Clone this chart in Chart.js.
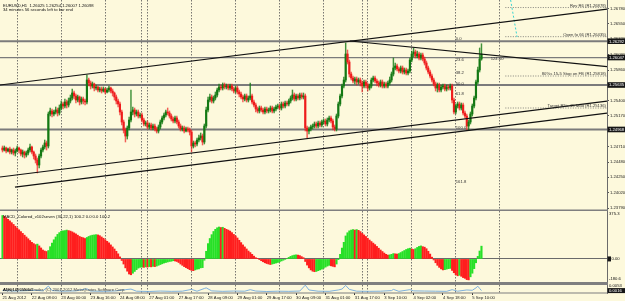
<!DOCTYPE html>
<html>
<head>
<meta charset="utf-8">
<script src="https://cdn.jsdelivr.net/npm/chart.js@4.4.0/dist/chart.umd.min.js"></script>
<style>
  html, body { margin: 0; padding: 0; background: #fdf9dc; }
  #wrap { position: relative; width: 625px; height: 301px; overflow: hidden; background: #fdf9dc; }
  canvas { position: absolute; left: 0; }
</style>
</head>
<body>
<div id="wrap">
  <canvas id="main" width="625" height="211" style="top:0px"></canvas>
  <canvas id="macd" width="625" height="72" style="top:211px"></canvas>
  <canvas id="atr" width="625" height="18" style="top:283px"></canvas>
</div>
<script>
// EURUSD H1, 21 Aug 2012 16:00 -> 5 Sep 2012 15:00, one value per bar
const firstOpen = 1.2469;
const closes = [
  1.2466, 1.2469, 1.24645, 1.24675, 1.2463, 1.2466, 1.24615, 1.24645, 1.2469, 1.2466,
  1.2460, 1.2463, 1.24585, 1.24615, 1.2466, 1.24705, 1.2463, 1.2457, 1.2451, 1.24435,
  1.2457, 1.2466, 1.24705, 1.24765, 1.2472, 1.2520, 1.25245, 1.2520, 1.2523, 1.2526,
  1.25215, 1.2529, 1.2535, 1.2532, 1.2538, 1.25335, 1.25395, 1.2544, 1.25515, 1.2547,
  1.2541, 1.25455, 1.2538, 1.25425, 1.25395, 1.2538, 1.2571, 1.25665, 1.2562, 1.2565,
  1.2559, 1.25605, 1.2556, 1.25575, 1.25545, 1.25575, 1.2553, 1.2556, 1.2559, 1.25545,
  1.25515, 1.25455, 1.25395, 1.2535, 1.2523, 1.2508, 1.2496, 1.2487, 1.2499, 1.2511,
  1.2523, 1.2526, 1.2520, 1.2523, 1.2517, 1.25185, 1.2511, 1.2505, 1.25065, 1.25005,
  1.25035, 1.2499, 1.2502, 1.24975, 1.24945, 1.25005, 1.2508, 1.2514, 1.25185, 1.2523,
  1.25215, 1.2517, 1.25125, 1.25095, 1.2514, 1.2508, 1.2502, 1.24975, 1.2499, 1.24945,
  1.24975, 1.2496, 1.2493, 1.2472, 1.24765, 1.2475, 1.2481, 1.2484, 1.2487, 1.2478,
  1.2502, 1.2526, 1.2541, 1.25455, 1.25395, 1.2544, 1.25485, 1.2556, 1.25605, 1.2559,
  1.25635, 1.25605, 1.2562, 1.2559, 1.2562, 1.25575, 1.25545, 1.2559, 1.2553, 1.2550,
  1.25455, 1.25425, 1.2547, 1.2541, 1.2544, 1.2547, 1.2538, 1.25335, 1.25275, 1.25245,
  1.2529, 1.2526, 1.2523, 1.25275, 1.25245, 1.2526, 1.2529, 1.25245, 1.25275, 1.25305,
  1.2532, 1.2529, 1.2535, 1.2532, 1.25365, 1.2535, 1.25395, 1.2544, 1.25485, 1.25425,
  1.2547, 1.2544, 1.25485, 1.25455, 1.2547, 1.2499, 1.24945, 1.24975, 1.25005, 1.2502,
  1.2505, 1.2502, 1.25065, 1.25035, 1.2508, 1.25095, 1.2505, 1.2511, 1.2514, 1.25095,
  1.25005, 1.24975, 1.2517, 1.2535, 1.2547, 1.2562, 1.2571, 1.2610, 1.2598, 1.2580,
  1.2574, 1.25695, 1.25725, 1.2568, 1.2571, 1.25665, 1.2562, 1.2568, 1.25635, 1.2559,
  1.2562, 1.2571, 1.2574, 1.25695, 1.25665, 1.25635, 1.2568, 1.2562, 1.2565, 1.2562,
  1.25665, 1.2571, 1.2580, 1.2589, 1.2592, 1.25875, 1.25845, 1.2589, 1.2583, 1.2586,
  1.25815, 1.25845, 1.2601, 1.2610, 1.2613, 1.2607, 1.2610, 1.2604, 1.26085, 1.26025,
  1.25965, 1.2589, 1.2583, 1.2577, 1.2571, 1.2565, 1.2559, 1.25635, 1.2556, 1.25605,
  1.2562, 1.25575, 1.25605, 1.2559, 1.2562, 1.2541, 1.2523, 1.2532, 1.2535, 1.2529,
  1.25335, 1.25215, 1.2517, 1.2502, 1.2508, 1.2520, 1.2532, 1.2544, 1.2568, 1.2586,
  1.26025, 1.26098
];
const highs = [
  1.2472, 1.2472, 1.24705, 1.2469, 1.24705, 1.24675, 1.2469, 1.24675, 1.2472, 1.24705,
  1.24675, 1.2466, 1.24645, 1.24645, 1.2469, 1.2475, 1.2472, 1.24645, 1.2460, 1.2454,
  1.2460, 1.2469, 1.24735, 1.2481, 1.24795, 1.2523, 1.2529, 1.25275, 1.2526, 1.25305,
  1.2529, 1.25335, 1.25395, 1.2538, 1.25425, 1.2541, 1.2544, 1.25485, 1.25575, 1.25545,
  1.2550, 1.25485, 1.2547, 1.25455, 1.25455, 1.25425, 1.25785, 1.2574, 1.25695, 1.2568,
  1.25665, 1.25635, 1.2562, 1.25605, 1.25605, 1.25605, 1.2559, 1.2559, 1.2562, 1.25605,
  1.25575, 1.2553, 1.25485, 1.25425, 1.2538, 1.2526, 1.2511, 1.2499, 1.2502, 1.25155,
  1.2556, 1.25305, 1.2529, 1.2526, 1.2526, 1.25215, 1.25215, 1.2514, 1.25095, 1.25095,
  1.25065, 1.25065, 1.2505, 1.2505, 1.25005, 1.25035, 1.2511, 1.2517, 1.25215, 1.2526,
  1.2529, 1.25245, 1.2520, 1.25155, 1.2517, 1.2517, 1.2511, 1.2505, 1.2502, 1.2502,
  1.25005, 1.25005, 1.2499, 1.2496, 1.24795, 1.24795, 1.2484, 1.24885, 1.24915, 1.2490,
  1.2505, 1.25305, 1.25455, 1.2550, 1.25485, 1.2547, 1.2553, 1.2559, 1.2565, 1.25635,
  1.25665, 1.25665, 1.2565, 1.2565, 1.2565, 1.2565, 1.25605, 1.2562, 1.2562, 1.2556,
  1.2553, 1.25485, 1.2550, 1.2550, 1.2547, 1.25665, 1.2550, 1.2541, 1.25365, 1.25305,
  1.2532, 1.2532, 1.2529, 1.25305, 1.25305, 1.2529, 1.2532, 1.2532, 1.25305, 1.25335,
  1.2535, 1.2535, 1.2538, 1.2538, 1.25395, 1.25395, 1.25425, 1.2547, 1.2556, 1.25515,
  1.2550, 1.2550, 1.25515, 1.25515, 1.25515, 1.2550, 1.2502, 1.25005, 1.25035, 1.2505,
  1.2508, 1.2508, 1.25095, 1.25095, 1.2511, 1.25125, 1.25125, 1.2514, 1.2517, 1.2517,
  1.25125, 1.25035, 1.2520, 1.2538, 1.2550, 1.2565, 1.25755, 1.26265, 1.2616, 1.2601,
  1.2583, 1.2577, 1.25755, 1.25755, 1.2574, 1.2574, 1.25695, 1.2571, 1.2571, 1.25665,
  1.2565, 1.2574, 1.2577, 1.2577, 1.25725, 1.25695, 1.2571, 1.2571, 1.2568, 1.2568,
  1.25695, 1.25755, 1.2583, 1.2604, 1.25965, 1.2595, 1.25905, 1.2592, 1.2592, 1.2589,
  1.2589, 1.25875, 1.2604, 1.26145, 1.2619, 1.2616, 1.26145, 1.2613, 1.26115, 1.26115,
  1.26055, 1.25995, 1.2592, 1.2586, 1.2580, 1.2574, 1.2568, 1.25665, 1.25665, 1.25635,
  1.2565, 1.2565, 1.25635, 1.25635, 1.2565, 1.2565, 1.2544, 1.2535, 1.2538, 1.2538,
  1.25365, 1.25365, 1.25245, 1.2520, 1.2511, 1.2523, 1.2535, 1.2547, 1.2571, 1.25905,
  1.2619, 1.26254
];
const lows = [
  1.2463, 1.24645, 1.24615, 1.2463, 1.2460, 1.2460, 1.24585, 1.2457, 1.2463, 1.24615,
  1.2457, 1.24555, 1.2454, 1.24555, 1.24585, 1.2463, 1.2460, 1.24525, 1.24465, 1.24315,
  1.2439, 1.2454, 1.2463, 1.24675, 1.2466, 1.2469, 1.2517, 1.25155, 1.2517, 1.2520,
  1.2517, 1.25185, 1.2526, 1.25275, 1.2529, 1.2529, 1.25305, 1.25365, 1.2541, 1.25425,
  1.25365, 1.2538, 1.25335, 1.2535, 1.2535, 1.25335, 1.2535, 1.2562, 1.25575, 1.2559,
  1.25545, 1.2556, 1.2553, 1.2553, 1.25515, 1.2553, 1.2550, 1.25515, 1.2553, 1.25515,
  1.2547, 1.2541, 1.2535, 1.25305, 1.25185, 1.25035, 1.24915, 1.2478, 1.24825, 1.2496,
  1.2508, 1.25185, 1.25155, 1.2517, 1.2514, 1.2514, 1.2508, 1.2502, 1.2502, 1.24975,
  1.24975, 1.2496, 1.2496, 1.24945, 1.24915, 1.24915, 1.24975, 1.2505, 1.2511, 1.25155,
  1.25185, 1.2514, 1.25095, 1.25065, 1.25065, 1.2505, 1.2499, 1.24945, 1.24945, 1.24915,
  1.2493, 1.2493, 1.24885, 1.2463, 1.2469, 1.24705, 1.2472, 1.2478, 1.2481, 1.24735,
  1.2475, 1.2499, 1.2523, 1.2538, 1.25365, 1.25365, 1.2541, 1.25455, 1.2553, 1.2556,
  1.2556, 1.25575, 1.25575, 1.2556, 1.2556, 1.25545, 1.25515, 1.25515, 1.2550, 1.25455,
  1.25425, 1.2538, 1.25395, 1.2538, 1.2538, 1.2541, 1.2535, 1.25305, 1.2523, 1.25215,
  1.25215, 1.2523, 1.2520, 1.2520, 1.25215, 1.25215, 1.2523, 1.25215, 1.25215, 1.25245,
  1.25275, 1.2526, 1.2526, 1.2529, 1.2529, 1.2532, 1.2532, 1.25365, 1.2541, 1.25395,
  1.25395, 1.2541, 1.2541, 1.25425, 1.25425, 1.24945, 1.2484, 1.2490, 1.24945, 1.24975,
  1.2499, 1.2499, 1.2499, 1.25005, 1.25005, 1.2505, 1.2502, 1.2502, 1.2508, 1.25065,
  1.2496, 1.24945, 1.24945, 1.2514, 1.2532, 1.2544, 1.2559, 1.2568, 1.2595, 1.25755,
  1.2571, 1.25665, 1.2565, 1.25635, 1.2565, 1.2562, 1.2553, 1.2559, 1.2559, 1.25545,
  1.2556, 1.2559, 1.2568, 1.25665, 1.2562, 1.25605, 1.25605, 1.2559, 1.2559, 1.2559,
  1.2559, 1.25635, 1.2568, 1.2577, 1.2586, 1.25845, 1.25815, 1.25815, 1.2580, 1.2580,
  1.25785, 1.25785, 1.25815, 1.2598, 1.26055, 1.2604, 1.2604, 1.2601, 1.2601, 1.25995,
  1.25935, 1.2586, 1.2580, 1.2574, 1.2568, 1.2562, 1.25545, 1.2553, 1.2553, 1.2553,
  1.25575, 1.25545, 1.25545, 1.2556, 1.2556, 1.25365, 1.2520, 1.2520, 1.2529, 1.2526,
  1.2526, 1.25185, 1.2514, 1.2496, 1.2496, 1.2505, 1.2517, 1.2529, 1.2541, 1.2565,
  1.2583, 1.26007
];
const macd = [
  340, 334, 322, 310, 298, 284, 270, 256, 242, 228,
  214, 200, 186, 172, 158, 144, 130, 120, 112, 116,
  102, 86, 70, 62, 58, 66, 96, 124, 150, 172,
  192, 206, 216, 220, 222, 226, 222, 218, 212, 204,
  196, 186, 176, 170, 166, 160, 168, 176, 182, 186,
  188, 190, 188, 182, 172, 162, 150, 138, 126, 110,
  94, 78, 60, 40, 16, -12, -40, -70, -96, -118,
  -124, -112, -98, -84, -72, -66, -64, -66, -62, -64,
  -60, -62, -58, -60, -56, -50, -44, -38, -32, -28,
  -24, -20, -18, -14, -16, -20, -28, -40, -50, -60,
  -68, -76, -84, -90, -92, -86, -80, -78, -70, -68,
  -10, 60, 120, 160, 190, 215, 232, 244, 250, 246,
  248, 240, 232, 226, 218, 206, 192, 180, 164, 146,
  128, 110, 94, 78, 62, 50, 36, 22, 10, 2,
  -6, -14, -22, -30, -36, -40, -44, -40, -36, -32,
  -28, -22, -16, -10, -4, 4, 12, 20, 26, 30,
  32, 30, 26, 18, 10, -20, -48, -70, -86, -96,
  -100, -98, -92, -86, -80, -72, -64, -56, -50, -54,
  -58, -62, -40, -6, 36, 85, 130, 180, 205, 220,
  226, 230, 226, 230, 224, 214, 200, 188, 176, 162,
  148, 136, 124, 112, 98, 84, 70, 58, 46, 36,
  30, 32, 36, 42, 40, 38, 42, 50, 58, 66,
  74, 80, 84, 78, 74, 80, 90, 98, 102, 96,
  92, 80, 60, 38, 14, -8, -30, -50, -66, -78,
  -86, -84, -80, -76, -74, -90, -108, -124, -132, -128,
  -136, -146, -152, -162, -164, -140, -112, -76, -30, 20,
  62, 100
];
// [bar, value]
const atrPts = [
  [0, 0.0016], [6, 0.0013], [12, 0.0015], [18, 0.0018], [22, 0.0014], [25, 0.0046], [27, 0.0016],
  [33, 0.0012], [40, 0.0014], [46, 0.0028], [48, 0.0013], [55, 0.0011], [62, 0.0014], [67, 0.0022],
  [70, 0.0026], [73, 0.0012], [80, 0.0010], [86, 0.0013], [92, 0.0011], [98, 0.0012], [103, 0.0024],
  [106, 0.0012], [110, 0.0030], [111, 0.0034], [114, 0.0014], [120, 0.0011], [126, 0.0013],
  [132, 0.0012], [135, 0.0022], [138, 0.0013], [144, 0.0010], [150, 0.0012], [156, 0.0011],
  [162, 0.0013], [165, 0.0052], [167, 0.0020], [172, 0.0012], [178, 0.0011], [183, 0.0020],
  [185, 0.0026], [187, 0.0050], [189, 0.0024], [193, 0.0012], [200, 0.0011], [206, 0.0012],
  [212, 0.0016], [213, 0.0024], [216, 0.0011], [222, 0.0022], [224, 0.0014], [230, 0.0013],
  [236, 0.0012], [242, 0.0011], [245, 0.0022], [248, 0.0012], [253, 0.0020], [256, 0.0018],
  [258, 0.0034], [259, 0.0045], [260, 0.0030], [261, 0.0016]
];

const dateTicks = [0, 16, 32, 48, 64, 80, 96, 112, 128, 144, 160, 176, 192, 208, 224, 240, 256];
const dateLabels = ['21 Aug 2012', '22 Aug 08:00', '23 Aug 00:00', '23 Aug 16:00', '24 Aug 08:00',
  '27 Aug 01:00', '27 Aug 17:00', '28 Aug 09:00', '29 Aug 01:00', '29 Aug 17:00', '30 Aug 09:00',
  '31 Aug 01:00', '31 Aug 17:00', '3 Sep 10:00', '4 Sep 02:00', '4 Sep 18:00', '5 Sep 10:00'];
const daySeps = [8, 32, 56, 76, 79, 103, 127, 151, 175, 196, 199, 223, 247, 271];
const priceTicks = [1.2379, 1.2402, 1.2425, 1.2448, 1.2471, 1.2494, 1.2517, 1.2540,
  1.2563, 1.2586, 1.2609, 1.2632, 1.2655, 1.2678];

const hLevels = [1.26292, 1.26047, 1.25635, 1.24968];
const trendLines = [
  [[-1.36, 1.25635], [329.4, 1.267735]],
  [[189.4, 1.26295], [329.4, 1.259095]],
  [[-1.36, 1.24255], [329.4, 1.253935]],
  [[6.8, 1.241035], [329.4, 1.252135]]
];
const cyanLine = [[276.5, 1.2697], [280.4, 1.26355]];
const fibLevels = [0, 23.6, 38.2, 50, 61.8, 100, 161.8];
const fibZero = 1.26292, fibHundred = 1.24968, fibAt = 247;
const moveText = '124.60', moveAt = [266, 1.2601];
const noteStart = 274;
const levelNotes = [
  { text: 'Rev R6 (R1.26878)', price: 1.26797 },
  { text: 'Open fo 66 (R1.26435)', price: 1.26360 },
  { text: '80%s 15-5 Stop on FB (R1.25818)', price: 1.25770 },
  { text: 'Target R5ic 15 Mod (R1.25136)', price: 1.25290 }
];
const headerText = 'EURUSD,H1  1.26025 1.26254 1.26007 1.26098';
const timerText = '34 minutes 56 seconds left to bar end';
const macdTitle = 'MACD_Colored_v102seven (30,22,1) 100.2 0.0 0.0 100.2';
const macdMax = 375.3, macdMin = -180.6;
const atrTitle = 'ATR(14) 0.0016';
const copyText = 'Alpari UK MetaTrader, (C) 2001-2012 MetaQuotes Software Corp.';
const atrMax = 0.0053;

// ---- styling ----
const X_MIN = -1.36, X_MAX = 329.4;
const Y_MIN = 1.2376, Y_MAX = 1.2691;
const FAM = '"Liberation Sans", Arial, sans-serif';
const FS = 4.2;
const FONT = FS + 'px ' + FAM;
const BULL = '#137813', BEAR = '#ee1c1c';
const BULL_WICK = 'rgba(19,120,19,0.8)', BEAR_WICK = 'rgba(238,28,28,0.7)';
const UP = '#27e027', DOWN = '#ff1e1e';
const hWidths = [2, 1.3, 2, 2];

const fitW = w => s => { s.width = w; s.paddingTop = 0; s.paddingBottom = 0; };
const fitH = h => s => { s.height = h; s.paddingLeft = 0; s.paddingRight = 0; };

function dayGrid() {
  return {
    type: 'linear', min: X_MIN, max: X_MAX, offset: false, position: 'bottom',
    afterBuildTicks: s => { s.ticks = daySeps.map(v => ({ value: v })); },
    afterFit: fitH(0),
    ticks: { display: false },
    grid: { offset: false, color: '#555', lineWidth: 0.8, drawTicks: false },
    border: { display: false, dash: [1.5, 1.5] }
  };
}

function rightAxis(min, max, extra) {
  return Object.assign({
    type: 'linear', position: 'right', min: min, max: max,
    afterFit: fitW(18),
    ticks: { display: false },
    grid: { display: false },
    border: { display: true, color: '#6b6b6b', width: 1 }
  }, extra);
}

const lineSet = (pts, color, width, dash, order) => ({
  type: 'line', data: pts.map(p => ({ x: p[0], y: p[1] })), borderColor: color, borderWidth: width,
  borderDash: dash || [], pointRadius: 0, fill: false, tension: 0, order: order
});

const common = {
  responsive: false, animation: false, devicePixelRatio: 1,
  plugins: { legend: { display: false }, tooltip: { enabled: false } }
};

// ---- main price pane ----
const opens = closes.map((c, i) => (i === 0 ? firstOpen : closes[i - 1]));
const bull = closes.map((c, i) => c >= opens[i]);

const mainSets = [
  {
    type: 'bar', data: closes.map((c, i) => ({ x: i, y: [opens[i], c] })),
    backgroundColor: bull.map(b => (b ? BULL : BEAR)), barThickness: 1.5, grouped: false,
    minBarLength: 0.8, order: 2
  },
  {
    type: 'bar', data: closes.map((c, i) => ({ x: i, y: [lows[i], highs[i]] })),
    backgroundColor: bull.map(b => (b ? BULL_WICK : BEAR_WICK)), barThickness: 0.8, grouped: false,
    order: 3
  }
];
hLevels.forEach((p, k) => mainSets.push(lineSet([[X_MIN, p], [X_MAX, p]], '#7b7b7b', hWidths[k], null, 5)));
trendLines.forEach(t => mainSets.push(lineSet(t, '#111', 1.2, null, 1)));
levelNotes.forEach(n => mainSets.push(lineSet([[noteStart, n.price], [X_MAX, n.price]], '#666', 0.8, [1, 1.5], 6)));
mainSets.push(lineSet(cyanLine, '#1fd0d0', 0.9, [2, 2], 1));

const mainText = {
  id: 'mainText',
  afterDraw(chart) {
    const { ctx, chartArea: a, scales: { x, y } } = chart;
    ctx.save();
    ctx.font = FONT;
    ctx.textAlign = 'left';
    ctx.textBaseline = 'alphabetic';
    ctx.fillStyle = '#111';
    ctx.fillText(headerText, 3, 6.5);
    ctx.fillText(timerText, 3, 10.5);
    ctx.fillStyle = '#333';
    fibLevels.forEach(l => {
      const p = fibZero - (fibZero - fibHundred) * l / 100;
      ctx.fillText(l.toFixed(1), x.getPixelForValue(fibAt), y.getPixelForValue(p) - 0.8);
    });
    ctx.fillText(moveText, x.getPixelForValue(moveAt[0]), y.getPixelForValue(moveAt[1]));
    ctx.textAlign = 'right';
    levelNotes.forEach(n => ctx.fillText(n.text, a.right - 1, y.getPixelForValue(n.price) - 0.8));
    // pane separator
    ctx.fillStyle = '#7f7f7f';
    ctx.fillRect(0, a.bottom - 0.5, a.right + 1, 1.6);
    // value boxes on the price axis
    ctx.textAlign = 'left';
    ctx.textBaseline = 'middle';
    hLevels.forEach(p => {
      const yy = y.getPixelForValue(p);
      ctx.fillStyle = '#161616';
      ctx.fillRect(a.right + 0.5, yy - 2.8, 18, 5.6);
      ctx.fillStyle = '#fff';
      ctx.fillText(p.toFixed(5), a.right + 2, yy + 0.2);
    });
    ctx.restore();
  }
};

new Chart(document.getElementById('main'), {
  type: 'bar',
  data: { datasets: mainSets },
  options: Object.assign({}, common, {
    layout: { padding: { top: 0, bottom: 1, left: 0, right: 0 } },
    scales: {
      x: dayGrid(),
      y: rightAxis(Y_MIN, Y_MAX, {
        afterBuildTicks: s => { s.ticks = priceTicks.map(v => ({ value: v })); },
        ticks: { display: true, autoSkip: false, font: { family: FAM, size: FS }, color: '#222', padding: 1,
          callback: v => v.toFixed(5) },
        grid: { display: true, drawOnChartArea: false, drawTicks: true, tickLength: 2, color: '#555' }
      })
    }
  }),
  plugins: [mainText]
});

// ---- MACD pane ----
const macdText = {
  id: 'macdText',
  afterDraw(chart) {
    const { ctx, chartArea: a, scales: { y } } = chart;
    ctx.save();
    ctx.font = FONT;
    ctx.fillStyle = '#111';
    ctx.textBaseline = 'alphabetic';
    ctx.fillText(macdTitle, 3, 6.5);
    ctx.textBaseline = 'middle';
    ctx.fillText(macdMax.toFixed(1), a.right + 2, y.getPixelForValue(macdMax) + 2.5);
    ctx.fillText(macdMin.toFixed(1), a.right + 2, y.getPixelForValue(macdMin) - 3);
    const z = y.getPixelForValue(0);
    ctx.fillStyle = '#161616';
    ctx.fillRect(a.right + 0.5, z - 2.5, 3.5, 5);
    ctx.fillStyle = '#111';
    ctx.fillText('0.00', a.right + 4.5, z + 0.2);
    ctx.fillStyle = '#7f7f7f';
    ctx.fillRect(0, a.bottom, a.right + 1, 1);
    ctx.restore();
  }
};

new Chart(document.getElementById('macd'), {
  type: 'bar',
  data: {
    datasets: [{
      data: macd.map((v, i) => ({ x: i, y: v })),
      backgroundColor: macd.map((v, i) => (i > 0 && v < macd[i - 1] ? DOWN : UP)),
      barThickness: 1.45, grouped: false
    }]
  },
  options: Object.assign({}, common, {
    layout: { padding: { top: 0, bottom: 1, left: 0, right: 0 } },
    scales: {
      x: dayGrid(),
      y: rightAxis(macdMin, macdMax, {
        afterBuildTicks: s => { s.ticks = [{ value: 0 }]; },
        grid: { display: true, drawTicks: false, color: '#6a6a6a', lineWidth: 1 }
      })
    }
  }),
  plugins: [macdText]
});

// ---- small ATR pane + time axis ----
const atrText = {
  id: 'atrText',
  afterDraw(chart) {
    const { ctx, chartArea: a, scales: { y } } = chart;
    ctx.save();
    ctx.font = FONT;
    ctx.fillStyle = '#7f7f7f';
    ctx.fillRect(0, 0, a.right + 1, 2);
    ctx.fillRect(0, a.bottom - 0.5, a.right + 1, 1);
    ctx.textBaseline = 'alphabetic';
    ctx.fillStyle = '#444';
    ctx.fillText(copyText, 3, 8.3);
    ctx.fillStyle = '#111';
    ctx.fillText(atrTitle, 3, 8.3);
    ctx.textBaseline = 'middle';
    ctx.fillText(atrMax.toFixed(4), a.right + 2, 3.2);
    const last = atrPts[atrPts.length - 1][1];
    const yy = y.getPixelForValue(last);
    ctx.fillStyle = '#161616';
    ctx.fillRect(a.right + 0.5, yy - 2.5, 18, 5);
    ctx.fillStyle = '#fff';
    ctx.fillText(last.toFixed(4), a.right + 2, yy + 0.2);
    ctx.restore();
  }
};

new Chart(document.getElementById('atr'), {
  type: 'line',
  data: {
    datasets: [{
      data: atrPts.map(p => ({ x: p[0], y: p[1] })),
      borderColor: '#6fa8dc', borderWidth: 0.9, pointRadius: 0, tension: 0, fill: false
    }]
  },
  options: Object.assign({}, common, {
    layout: { padding: { top: 2, bottom: 0, left: 0, right: 0 } },
    scales: {
      x: {
        type: 'linear', min: X_MIN, max: X_MAX, offset: false, position: 'bottom',
        afterBuildTicks: s => { s.ticks = dateTicks.map(v => ({ value: v })); },
        afterFit: fitH(8),
        ticks: { autoSkip: false, maxRotation: 0, minRotation: 0, align: 'start', padding: 0,
          font: { family: FAM, size: FS }, color: '#222',
          callback: v => dateLabels[dateTicks.indexOf(v)] },
        grid: { offset: false, drawOnChartArea: false, drawTicks: true, tickLength: 2, color: '#333' },
        border: { display: false }
      },
      xd: dayGrid(),
      y: rightAxis(0, atrMax)
    }
  }),
  plugins: [atrText]
});
</script>
</body>
</html>
